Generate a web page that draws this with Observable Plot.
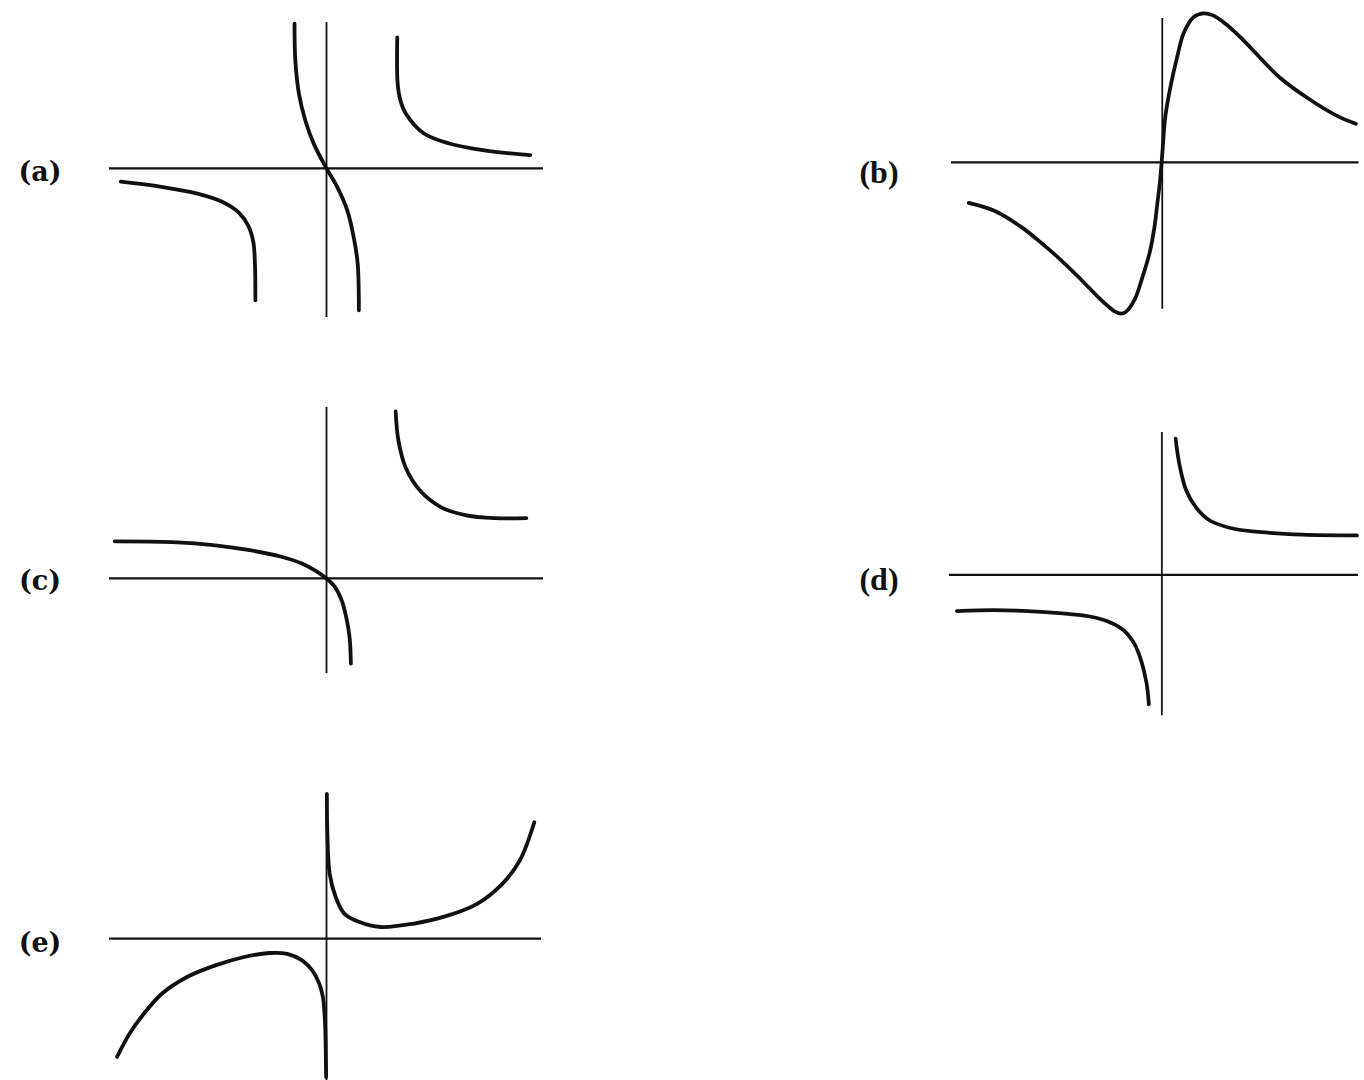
<!DOCTYPE html>
<html>
<head>
<meta charset="utf-8">
<script src="https://cdn.jsdelivr.net/npm/d3@7"></script>
<script src="https://cdn.jsdelivr.net/npm/@observablehq/plot@0.6"></script>
<style>
  html, body { margin: 0; padding: 0; background: #fff; overflow: hidden; }
  #page { position: relative; width: 1364px; height: 1080px; overflow: hidden; background: #fff; }
  .panel { position: absolute; }
  .label { position: absolute; color: #111; line-height: 1; transform: translate(-50%, -50%); white-space: nowrap; font-weight: bold; }
  .century { font-family: "DejaVu Serif", serif; font-size: 27px; }
  .times { font-family: "Liberation Serif", serif; font-size: 32px; }
</style>
</head>
<body>
<div id="page"></div>
<script>
// ---------- data (units: 1 = one grid step, y up) ----------
const panelNames = ["(a)", "(b)", "(c)", "(d)", "(e)"];

// (a)
const aLeftX  = [-5.15, -4.13, -3.23, -2.6, -2.2, -1.95, -1.83, -1.79, -1.78];
const aLeftY  = [-0.33, -0.46, -0.63, -0.84, -1.1, -1.45, -1.85, -2.4, -3.3];
const aMidX   = [-0.8, -0.78, -0.69, -0.53, -0.32, 0, 0.27, 0.52, 0.68, 0.78, 0.81];
const aMidY   = [3.62, 2.7, 1.87, 1.2, 0.62, 0, -0.47, -1.05, -1.72, -2.38, -3.55];
const aRightX = [1.77, 1.78, 1.85, 1.98, 2.43, 3.05, 3.95, 5.1];
const aRightY = [3.28, 2.13, 1.7, 1.38, 0.88, 0.63, 0.45, 0.33];

// (b)
const bX = [-4.92, -4.27, -3.57, -3.13, -2.63, -2.13, -1.63, -1.38, -1.2, -1.05, -0.93, -0.7, -0.5, -0.33, -0.2, -0.13, -0.05, 0.01, 0.08, 0.21, 0.38, 0.54, 0.79, 1.04, 1.29, 1.63, 2.04, 2.5, 3.0, 3.74, 4.44, 4.92];
const bY = [-1.03, -1.23, -1.65, -2.0, -2.43, -2.91, -3.42, -3.65, -3.79, -3.84, -3.8, -3.48, -2.9, -2.33, -1.65, -1.08, -0.4, 0.35, 1.18, 1.93, 2.68, 3.27, 3.68, 3.78, 3.73, 3.5, 3.12, 2.64, 2.14, 1.6, 1.18, 0.98];

// (c)
const cLeftX  = [-5.3, -3.85, -2.78, -1.88, -1.15, -0.63, -0.27, 0, 0.2, 0.38, 0.5, 0.58, 0.61];
const cLeftY  = [0.93, 0.91, 0.83, 0.7, 0.55, 0.38, 0.19, 0, -0.2, -0.55, -1.0, -1.5, -2.13];
const cRightX = [1.73, 1.8, 1.98, 2.34, 2.87, 3.5, 4.22, 5.0];
const cRightY = [4.18, 3.45, 2.78, 2.2, 1.78, 1.58, 1.51, 1.51];

// (d)
const dLeftX  = [-5.21, -4.27, -3.4, -2.53, -1.83, -1.31, -0.96, -0.7, -0.53, -0.39, -0.33];
const dLeftY  = [-0.92, -0.9, -0.92, -0.98, -1.06, -1.21, -1.42, -1.75, -2.17, -2.75, -3.29];
const dRightX = [0.35, 0.44, 0.61, 0.87, 1.22, 1.83, 2.7, 3.57, 4.96];
const dRightY = [3.46, 2.84, 2.17, 1.71, 1.38, 1.17, 1.07, 1.02, 1.0];

// (e)
const eLeftX  = [-5.24, -4.93, -4.57, -4.12, -3.49, -2.78, -2.06, -1.43, -0.98, -0.62, -0.36, -0.18, -0.09, -0.04, -0.02, -0.01];
const eLeftY  = [-2.96, -2.38, -1.88, -1.38, -0.96, -0.67, -0.46, -0.36, -0.38, -0.54, -0.79, -1.13, -1.46, -2.04, -2.71, -3.46];
const eRightX = [0.01, 0.02, 0.08, 0.23, 0.45, 0.81, 1.35, 2.16, 3.05, 3.77, 4.4, 4.84, 5.2];
const eRightY = [3.62, 2.71, 1.62, 1.04, 0.62, 0.42, 0.29, 0.37, 0.58, 0.87, 1.37, 1.96, 2.91];

// axis extents per panel: [xmin, xmax, ymin, ymax]
const axisA = [-5.43, 5.43, -3.73, 3.65];
const axisB = [-5.36, 5.0, -3.73, 3.65];
const axisC = [-5.43, 5.43, -2.38, 4.28];
const axisD = [-5.4, 5.0, -3.58, 3.62];
const axisE = [-5.43, 5.38, -3.6, 3.63];

// ---------- layout ----------
const UNIT = 40; // px per unit
const toPts = (xs, ys) => xs.map((x, i) => ({x, y: ys[i]}));

const panels = [
  {name: panelNames[0], ox: 326, oy: 168, axis: axisA, font: "century", lx: 40, ly: 171,
   curves: [toPts(aLeftX, aLeftY), toPts(aMidX, aMidY), toPts(aRightX, aRightY)]},
  {name: panelNames[1], ox: 1165, oy: 164, axis: axisB, font: "times", lx: 879, ly: 172,
   curves: [toPts(bX, bY)]},
  {name: panelNames[2], ox: 326, oy: 578, axis: axisC, font: "century", lx: 40, ly: 580,
   curves: [toPts(cLeftX, cLeftY), toPts(cRightX, cRightY)]},
  {name: panelNames[3], ox: 1165, oy: 577, axis: axisD, font: "times", lx: 879, ly: 579,
   curves: [toPts(dLeftX, dLeftY), toPts(dRightX, dRightY)]},
  {name: panelNames[4], ox: 326, oy: 938, axis: axisE, font: "century", lx: 40, ly: 942,
   curves: [toPts(eLeftX, eLeftY), toPts(eRightX, eRightY)]}
];

const page = document.getElementById("page");
const PAD = 0.15; // domain padding in units so strokes are not clipped

for (const p of panels) {
  const [xmin, xmax, ymin, ymax] = p.axis;
  const allX = p.curves.flat().map(d => d.x).concat([xmin, xmax]);
  const allY = p.curves.flat().map(d => d.y).concat([ymin, ymax]);
  const x0 = Math.min(...allX) - PAD, x1 = Math.max(...allX) + PAD;
  const y0 = Math.min(...allY) - PAD, y1 = Math.max(...allY) + PAD;
  const width = Math.round((x1 - x0) * UNIT);
  const height = Math.round((y1 - y0) * UNIT);

  const marks = [
    Plot.ruleY([0], {x1: xmin, x2: xmax, stroke: "#111", strokeWidth: 2.2}),
    Plot.ruleX([0], {y1: ymin, y2: ymax, stroke: "#111", strokeWidth: 1.8})
  ];
  for (const c of p.curves) {
    marks.push(Plot.line(c, {x: "x", y: "y", curve: "catmull-rom", stroke: "#111", strokeWidth: 3.8, strokeLinecap: "round", strokeLinejoin: "round"}));
  }

  const svg = Plot.plot({
    width, height,
    margin: 0,
    x: {domain: [x0, x1], axis: null},
    y: {domain: [y0, y1], axis: null},
    style: {background: "transparent", overflow: "visible"},
    marks
  });
  const holder = document.createElement("div");
  holder.className = "panel";
  holder.style.left = (p.ox + x0 * UNIT) + "px";
  holder.style.top = (p.oy - y1 * UNIT) + "px";
  holder.appendChild(svg);
  page.appendChild(holder);

  const lab = document.createElement("div");
  lab.className = "label " + p.font;
  lab.style.left = p.lx + "px";
  lab.style.top = p.ly + "px";
  lab.textContent = p.name;
  page.appendChild(lab);
}
</script>
</body>
</html>
